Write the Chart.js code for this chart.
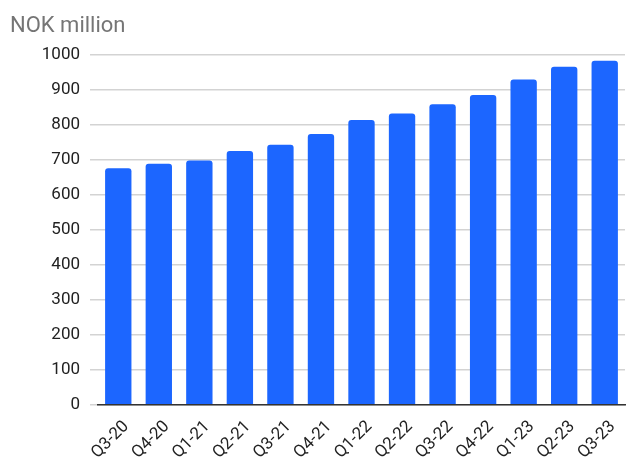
<!DOCTYPE html>
<html>
<head>
<meta charset="utf-8">
<script src="https://cdn.jsdelivr.net/npm/chart.js@4"></script>
<style>
  html, body { margin: 0; padding: 0; background: #fff; }
  #wrap { width: 629px; height: 458px; }
</style>
</head>
<body>
<div id="wrap"><canvas id="revChart"></canvas></div>
<script>
var quarters = ['Q3-20', 'Q4-20', 'Q1-21', 'Q2-21', 'Q3-21', 'Q4-21', 'Q1-22',
                'Q2-22', 'Q3-22', 'Q4-22', 'Q1-23', 'Q2-23', 'Q3-23'];
var revenue = [675, 688, 697, 724, 742, 773, 813, 831, 858, 884, 928, 965, 982];
var yMax = 1000;

Chart.defaults.font.family = 'Roboto, "Noto Sans", sans-serif';

var revChart = new Chart('revChart', {
    type: 'bar',
    data: {
        labels: quarters,
        datasets: [{
            label: 'NOK million',
            data: revenue,
            backgroundColor: '#1c66ff',
            borderRadius: 3,
            borderSkipped: 'bottom',
            categoryPercentage: 0.65,
            barPercentage: 1
        }]
    },
    options: {
        responsive: true,
        maintainAspectRatio: false,
        animation: false,
        layout: { padding: { left: 10, right: 4, top: 4, bottom: 0 } },
        plugins: {
            legend: { display: false },
            tooltip: { enabled: false },
            title: {
                display: true,
                text: 'NOK million',
                align: 'start',
                color: '#757575',
                font: { size: 22, weight: 'normal' },
                padding: { top: 9, bottom: 15 }
            }
        },
        scales: {
            x: {
                grid: { display: false },
                border: { color: '#333', width: 1.5 },
                afterFit: function (axis) { axis.height = axis.height - 9; },
                ticks: {
                    color: '#222',
                    font: { size: 17 },
                    minRotation: 45,
                    maxRotation: 45,
                    autoSkip: false,
                    labelOffset: 8,
                    padding: 4
                }
            },
            y: {
                min: 0,
                max: yMax,
                border: { display: false },
                grid: { color: '#d3d3d3', lineWidth: 1.5, tickLength: 8 },
                afterFit: function (axis) { axis.width = 88; },
                ticks: {
                    stepSize: 50,
                    color: '#222',
                    font: { size: 17 },
                    padding: 10,
                    callback: function (v) { return v % 100 === 0 ? v : ''; }
                }
            }
        }
    }
});
</script>
</body>
</html>
